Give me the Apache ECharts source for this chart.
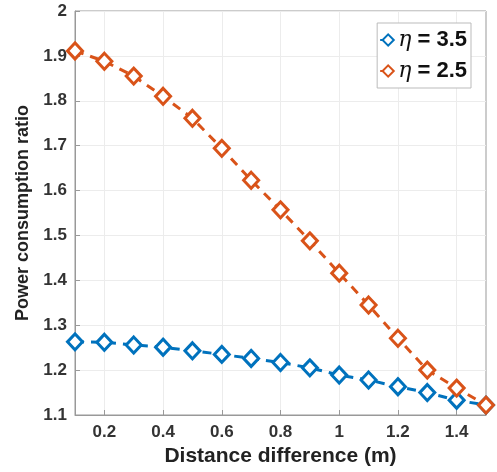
<!DOCTYPE html>
<html><head><meta charset="utf-8">
<script src="https://cdn.jsdelivr.net/npm/echarts@6/dist/echarts.min.js"></script>
<style>html,body{margin:0;padding:0;background:#fff}#c{width:497px;height:472px}</style>
</head><body><div id="c"></div>
<script>
const distance = [0.1,0.2,0.3,0.4,0.5,0.6,0.7,0.8,0.9,1.0,1.1,1.2,1.3,1.4,1.5];
const eta35 = [1.263,1.262,1.256,1.251,1.243,1.235,1.226,1.217,1.205,1.189,1.178,1.163,1.150,1.133,1.122];
const eta25 = [1.911,1.888,1.855,1.810,1.761,1.694,1.623,1.557,1.488,1.416,1.345,1.271,1.200,1.160,1.122];
const xTicks = [0.2,0.4,0.6,0.8,1.0,1.2,1.4];
const seriesNames = ['η = 3.5','η = 2.5'];

const chart = echarts.init(document.getElementById('c'));
const font = 'Liberation Sans, Arial, sans-serif';
function mk(name, vals, color){
  return {
    name: name, type:'line',
    data: distance.map((d,i)=>[d, vals[i]]),
    symbol:'diamond', symbolSize:[15,16], showSymbol:true,
    itemStyle:{color:'#fff', borderColor:color, borderWidth:3},
    lineStyle:{color:color, width:3, type:[9,7]},
    emphasis:{disabled:true}, animation:false, z: 3
  };
}
chart.setOption({
  animation:false,
  grid:{left:75, right:11, top:11, bottom:57, containLabel:false, show:false},
  legend:{
    right:26, top:23, orient:'vertical',
    backgroundColor:'#fff', borderColor:'#bbb', borderWidth:1,
    padding:[6,4,6,2], itemGap:9, itemWidth:16, itemHeight:14,
    data:[{name:seriesNames[0]},{name:seriesNames[1]}],
    formatter: function(n){ return '{i|η}{b| ' + n.slice(2) + '}'; },
    textStyle:{
      fontFamily:font, fontSize:22, color:'#111', padding:[0,0,0,-3],
      rich:{
        i:{fontFamily:'DejaVu Serif, serif', fontStyle:'italic', fontSize:22, color:'#111'},
        b:{fontFamily:font, fontWeight:'bold', fontSize:22, color:'#111'}
      }
    }
  },
  xAxis:{
    type:'value', min:0.1, max:1.5,
    name:'Distance difference (m)', nameLocation:'middle', nameGap:31,
    nameTextStyle:{fontFamily:font, fontWeight:'bold', fontSize:21, color:'#222'},
    axisLine:{show:true, onZero:false, lineStyle:{color:'#999', width:1}},
    axisTick:{show:true, inside:true, length:5, customValues:xTicks, lineStyle:{color:'#999'}},
    axisLabel:{customValues:xTicks, fontFamily:font, fontWeight:'bold', fontSize:17, color:'#333', margin:9,
      formatter:v=>String(+v.toFixed(1))},
    splitLine:{show:true, lineStyle:{color:'#ececec', width:1}}
  },
  yAxis:{
    type:'value', min:1.1, max:2, interval:0.1,
    name:'Power consumption ratio', nameLocation:'middle', nameGap:42,
    nameTextStyle:{fontFamily:font, fontWeight:'bold', fontSize:18, color:'#222'},
    axisLine:{show:true, lineStyle:{color:'#999', width:1}},
    axisTick:{show:true, inside:true, length:5, lineStyle:{color:'#999'}},
    axisLabel:{fontFamily:font, fontWeight:'bold', fontSize:17, color:'#333', margin:8,
      formatter:v=>String(+v.toFixed(1))},
    splitLine:{show:true, lineStyle:{color:'#ececec', width:1}}
  },
  graphic:[
    {type:'rect', shape:{x:75, y:11, width:411, height:404}, style:{fill:'none', stroke:'#999', lineWidth:1}, z:0, silent:true}
  ],
  series:[ mk(seriesNames[0], eta35, '#0072BD'), mk(seriesNames[1], eta25, '#D95319') ]
});
</script></body></html>
